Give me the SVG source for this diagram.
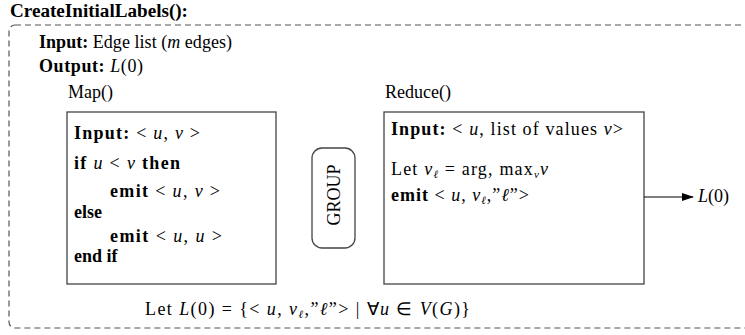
<svg xmlns="http://www.w3.org/2000/svg" width="745" height="335" viewBox="0 0 745 335">
<style>
text{font-family:"Liberation Serif","Times New Roman",serif;font-size:18px;fill:#000}
.b{font-weight:bold}
.i{font-style:italic}
.s{font-style:italic;font-size:11px}
.box{fill:#fff;stroke:#444;stroke-width:1.3}
.dash{fill:none;stroke:#555;stroke-width:1.2;stroke-dasharray:6,4}
.conn{stroke:#000;stroke-width:1.2;fill:none}
</style>
<defs>
<marker id="ah" markerWidth="12" markerHeight="8" refX="11" refY="4" orient="auto" markerUnits="userSpaceOnUse">
<path d="M0,0 L12,4 L0,8 Z" fill="#000"/>
</marker>
</defs>
<text class="b" x="10" y="17" textLength="178" lengthAdjust="spacingAndGlyphs">CreateInitialLabels():</text>
<g id="outer">
<rect class="dash" x="9" y="25" width="745" height="303" rx="6"/>
<text x="39" y="48" textLength="193"><tspan class="b">Input:</tspan> Edge list (<tspan class="i">m</tspan> edges)</text>
<text x="39" y="72" textLength="104"><tspan class="b">Output:</tspan> <tspan class="i">L</tspan>(0)</text>
<text x="68" y="98">Map()</text>
<text x="385" y="98">Reduce()</text>
<text x="145" y="315" textLength="325">Let <tspan class="i">L</tspan>(0) = {&lt; <tspan class="i">u</tspan>, <tspan class="i">v</tspan><tspan class="s" dy="3">ℓ</tspan><tspan dy="-3">,”</tspan><tspan class="i">ℓ</tspan>”&gt;  | ∀<tspan class="i">u</tspan> ∈ <tspan class="i">V</tspan>(<tspan class="i">G</tspan>)}</text>
</g>
<g id="map">
<rect class="box" x="67" y="112" width="209" height="172"/>
<text x="74" y="139" textLength="126"><tspan class="b">Input:</tspan> &lt; <tspan class="i">u</tspan>, <tspan class="i">v</tspan> &gt;</text>
<text x="74" y="169" textLength="106"><tspan class="b">if</tspan> <tspan class="i">u</tspan> &lt; <tspan class="i">v</tspan> <tspan class="b">then</tspan></text>
<text x="110" y="197" textLength="110"><tspan class="b">emit</tspan> &lt; <tspan class="i">u</tspan>, <tspan class="i">v</tspan> &gt;</text>
<text x="74" y="218" class="b">else</text>
<text x="110" y="242" textLength="112"><tspan class="b">emit</tspan> &lt; <tspan class="i">u</tspan>, <tspan class="i">u</tspan> &gt;</text>
<text x="74" y="262" class="b">end if</text>
</g>
<g id="group">
<rect class="box" x="312" y="148" width="43" height="100" rx="10"/>
<text x="340" y="195" text-anchor="middle" transform="rotate(-90 340 195)">GROUP</text>
</g>
<g id="reduce">
<rect class="box" x="384" y="112" width="260" height="172"/>
<text x="391" y="135" textLength="232"><tspan class="b">Input:</tspan> &lt; <tspan class="i">u</tspan>, list of values <tspan class="i">v</tspan>&gt;</text>
<text x="391" y="175" textLength="157">Let <tspan class="i">v</tspan><tspan class="s" dy="3">ℓ</tspan><tspan dy="-3"> = arg, max</tspan><tspan class="s" dy="3">v</tspan><tspan class="i" dy="-3">v</tspan></text>
<text x="391" y="201" textLength="138"><tspan class="b">emit</tspan> &lt; <tspan class="i">u</tspan>, <tspan class="i">v</tspan><tspan class="s" dy="3">ℓ</tspan><tspan dy="-3">,”</tspan><tspan class="i">ℓ</tspan>”&gt;</text>
</g>
<g id="output">
<text x="698" y="202"><tspan class="i">L</tspan>(0)</text>
</g>
<g id="connectors">
<line class="conn" x1="644" y1="197" x2="693" y2="197" marker-end="url(#ah)"/>
</g>
</svg>
